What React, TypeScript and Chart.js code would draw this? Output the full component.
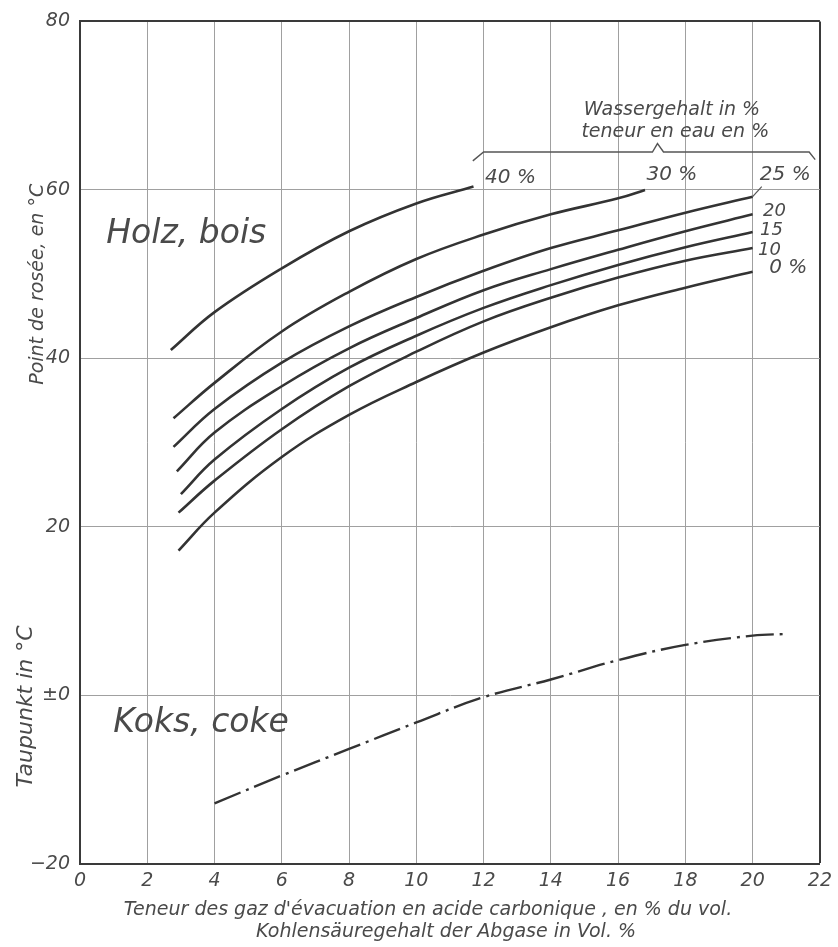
import React, { useEffect, useRef } from "react";
import { Chart, registerables } from "chart.js";

Chart.register(...registerables);

// ---- axes ----
const xMin = 0;
const xMax = 22;
const xStep = 2;
const yMin = -20;
const yMax = 80;
const yStep = 20;
const yTickLabels: Record<string, string> = {
  "80": "80",
  "60": "60",
  "40": "40",
  "20": "20",
  "0": "±0",
  "-20": "−20",
};

// ---- Holz, bois: dew point (°C) vs CO2 content (vol. %) for water content ----
const holz40X = [2.7, 4, 6, 8, 10, 11.7];
const holz40Y = [41.0, 45.5, 50.7, 55.1, 58.4, 60.4];
const holz30X = [2.78, 4, 6, 8, 10, 12, 14, 16, 16.8];
const holz30Y = [32.9, 37.1, 43.2, 47.9, 51.8, 54.7, 57.1, 59.0, 60.0];
const holz25X = [2.78, 4, 6, 8, 10, 12, 14, 16, 18, 20];
const holz25Y = [29.5, 34.0, 39.5, 43.8, 47.3, 50.4, 53.1, 55.2, 57.3, 59.2];
const holz20X = [2.88, 4, 6, 8, 10, 12, 14, 16, 18, 20];
const holz20Y = [26.6, 31.2, 36.7, 41.2, 44.8, 48.1, 50.6, 52.9, 55.1, 57.1];
const holz15X = [3.0, 4, 6, 8, 10, 12, 14, 16, 18, 20];
const holz15Y = [23.9, 28.0, 34.0, 38.9, 42.7, 46.0, 48.7, 51.1, 53.2, 55.0];
const holz10X = [2.93, 4, 6, 8, 10, 12, 14, 16, 18, 20];
const holz10Y = [21.7, 25.5, 31.6, 36.7, 40.8, 44.4, 47.2, 49.6, 51.6, 53.1];
const holz0X = [2.93, 4, 6, 8, 10, 12, 14, 16, 18, 20];
const holz0Y = [17.2, 21.7, 28.3, 33.3, 37.2, 40.7, 43.7, 46.3, 48.4, 50.3];

// ---- Koks, coke ----
const koksX = [4, 6, 8, 10, 12, 14, 16, 18, 20, 21];
const koksY = [-12.8, -9.5, -6.35, -3.2, -0.2, 1.9, 4.2, 6.0, 7.1, 7.3];

// ---- brace over the water-content labels, and leader to "25 %" ----
const braceX = [11.68, 12.0, 17.02, 17.17, 17.35, 21.68, 21.86];
const braceY = [63.45, 64.5, 64.5, 65.5, 64.5, 64.5, 63.6];
const leaderX = [20.0, 20.27];
const leaderY = [59.2, 60.4];

// ---- text annotations (data coordinates) ----
const labelTexts = [
  "Holz, bois",
  "Koks, coke",
  "40 %",
  "30 %",
  "25 %",
  "20",
  "15",
  "10",
  "0 %",
  "Wassergehalt in %",
  "teneur en eau en %",
];
const labelX = [3.16, 3.6, 12.8, 17.6, 20.97, 20.65, 20.56, 20.5, 21.06, 17.6, 17.7];
const labelY = [54.7, -3.3, 61.4, 61.8, 61.8, 57.5, 55.2, 52.8, 50.7, 69.5, 66.9];
const labelSizes = [33, 33, 20, 20, 20, 18, 18, 18, 20, 19, 19];

const xTitle1 = "Teneur des gaz d'évacuation en acide carbonique , en % du vol.";
const xTitle2 = "Kohlensäuregehalt der Abgase in Vol. %";
const yTitle1 = "Point de rosée, en °C";
const yTitle2 = "Taupunkt in °C";

const FONT = "'DejaVu Sans', 'Liberation Sans', sans-serif";
const TEXT = "#4a4a4a";
const CURVE = "#333333";
const GRID = "#a0a0a0";
const EDGE = "#3a3a3a";

const textPlugin = {
  id: "textPlugin",
  afterDraw(chart: any) {
    const { ctx, chartArea } = chart;
    const xs = chart.scales.x;
    const ys = chart.scales.y;
    ctx.save();
    ctx.fillStyle = TEXT;
    ctx.textAlign = "center";
    ctx.textBaseline = "middle";
    for (let i = 0; i < labelTexts.length; i++) {
      ctx.font = `italic ${labelSizes[i]}px ${FONT}`;
      ctx.fillText(labelTexts[i], xs.getPixelForValue(labelX[i]), ys.getPixelForValue(labelY[i]));
    }
    // x axis title (two lines)
    ctx.textBaseline = "alphabetic";
    ctx.font = `italic 19px ${FONT}`;
    ctx.fillText(xTitle1, chartArea.left + 348, chartArea.bottom + 51);
    ctx.fillText(xTitle2, chartArea.left + 366, chartArea.bottom + 73);
    // y axis titles (rotated)
    ctx.save();
    ctx.translate(xs.left - 37, ys.getPixelForValue(48.8));
    ctx.rotate(-Math.PI / 2);
    ctx.font = `italic 19px ${FONT}`;
    ctx.fillText(yTitle1, 0, 0);
    ctx.restore();
    ctx.save();
    ctx.translate(xs.left - 48, ys.getPixelForValue(-1.3));
    ctx.rotate(-Math.PI / 2);
    ctx.font = `italic 22px ${FONT}`;
    ctx.fillText(yTitle2, 0, 0);
    ctx.restore();
    ctx.restore();
  },
};

function pts(xs: number[], ys: number[]) {
  return xs.map((x, i) => ({ x, y: ys[i] }));
}

export default function App() {
  const ref = useRef<HTMLCanvasElement>(null);
  useEffect(() => {
    document.body.style.margin = "0";
    const canvas = ref.current!;
    const curve = (label: string, xs: number[], ys: number[]) => ({
      label,
      data: pts(xs, ys),
      borderColor: CURVE,
      borderWidth: 2.6,
      pointRadius: 0,
      tension: 0.4,
      fill: false,
    });
    const tickFont = { family: FONT, size: 19, style: "italic" as const };
    const chart = new Chart(canvas, {
      type: "line",
      data: {
        datasets: [
          curve("40 %", holz40X, holz40Y),
          curve("30 %", holz30X, holz30Y),
          curve("25 %", holz25X, holz25Y),
          curve("20 %", holz20X, holz20Y),
          curve("15 %", holz15X, holz15Y),
          curve("10 %", holz10X, holz10Y),
          curve("0 %", holz0X, holz0Y),
          {
            ...curve("Koks", koksX, koksY),
            borderDash: [28, 6, 3, 6],
            borderWidth: 2.4,
          },
          {
            label: "brace",
            data: pts(braceX, braceY),
            borderColor: "#555",
            borderWidth: 1.4,
            pointRadius: 0,
            tension: 0,
            fill: false,
          },
          {
            label: "leader",
            data: pts(leaderX, leaderY),
            borderColor: "#555",
            borderWidth: 1.2,
            pointRadius: 0,
            tension: 0,
            fill: false,
          },
        ],
      },
      options: {
        animation: false,
        responsive: false,
        devicePixelRatio: 1,
        layout: { padding: { top: 18, right: 13, left: 0, bottom: 0 } },
        plugins: {
          legend: { display: false },
          tooltip: { enabled: false },
          title: { display: false },
        },
        scales: {
          x: {
            type: "linear",
            min: xMin,
            max: xMax,
            afterFit: (s: any) => {
              s.height = 83;
            },
            ticks: {
              stepSize: xStep,
              font: tickFont,
              color: TEXT,
              padding: 6,
              maxRotation: 0,
              autoSkip: false,
            },
            grid: {
              drawTicks: false,
              color: (c: any) => (c.tick && c.tick.value === xMax ? EDGE : GRID),
              lineWidth: (c: any) => (c.tick && c.tick.value === xMax ? 2 : 1),
            },
            border: { display: true, color: EDGE, width: 2 },
          },
          y: {
            type: "linear",
            min: yMin,
            max: yMax,
            afterFit: (s: any) => {
              s.width = 80;
            },
            ticks: {
              stepSize: yStep,
              font: tickFont,
              color: TEXT,
              padding: 10,
              callback: (v: any) => yTickLabels[String(v)] ?? "",
            },
            grid: {
              drawTicks: false,
              color: (c: any) => (c.tick && c.tick.value === yMax ? EDGE : GRID),
              lineWidth: (c: any) => (c.tick && c.tick.value === yMax ? 2 : 1),
            },
            border: { display: true, color: EDGE, width: 2 },
          },
        },
      },
      plugins: [textPlugin],
    });
    return () => chart.destroy();
  }, []);
  return (
    <div style={{ width: 838, height: 947 }}>
      <canvas ref={ref} width={838} height={947} style={{ display: "block" }} />
    </div>
  );
}
